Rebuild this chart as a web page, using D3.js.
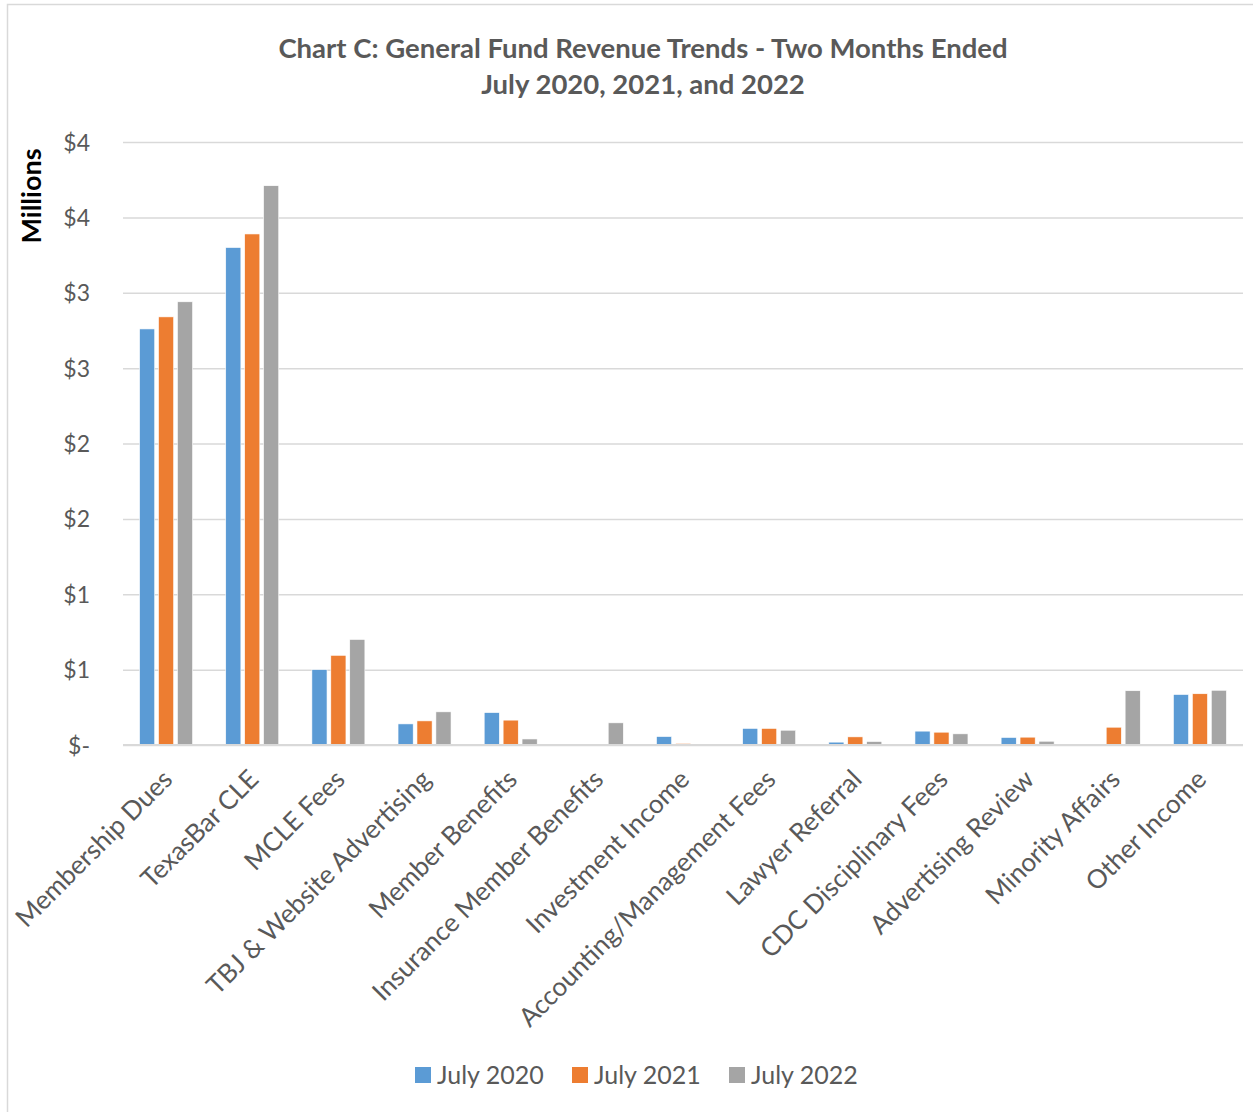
<!DOCTYPE html>
<html>
<head>
<meta charset="utf-8">
<script src="https://cdn.jsdelivr.net/npm/d3@7"></script>
<style>
  body { margin: 0; background: #fff; }
  text { font-family: Lato, "Liberation Sans", sans-serif; }
</style>
</head>
<body>
<div id="chart"></div>
<script>
var categories = ["Membership Dues", "TexasBar CLE", "MCLE Fees", "TBJ & Website Advertising",
  "Member Benefits", "Insurance Member Benefits", "Investment Income", "Accounting/Management Fees",
  "Lawyer Referral", "CDC Disciplinary Fees", "Advertising Review", "Minority Affairs", "Other Income"];
var seriesNames = ["July 2020", "July 2021", "July 2022"];
// values in millions
var july2020 = [2.76, 3.30, 0.50, 0.14, 0.215, 0, 0.056, 0.11, 0.019, 0.092, 0.05, 0, 0.335];
var july2021 = [2.84, 3.39, 0.595, 0.16, 0.165, 0, 0.01, 0.11, 0.054, 0.085, 0.052, 0.118, 0.34];
var july2022 = [2.94, 3.71, 0.70, 0.22, 0.04, 0.147, 0, 0.098, 0.023, 0.074, 0.025, 0.36, 0.363];
var tickValues = [0, 0.5, 1, 1.5, 2, 2.5, 3, 3.5, 4];
var tickLabels = ["$-", "$1", "$1", "$2", "$2", "$3", "$3", "$4", "$4"];
var colors = ["#5B9BD5", "#ED7D31", "#A5A5A5"];

var width = 1253, height = 1112;
var plotLeft = 123, plotRight = 1243, plotTop = 142, plotBottom = 745;

var svg = d3.select("#chart").append("svg").attr("width", width).attr("height", height);

// outer chart border
svg.append("rect").attr("x", 7.5).attr("y", 4.5).attr("width", width + 10).attr("height", height + 10)
  .attr("fill", "none").attr("stroke", "#d9d9d9").attr("stroke-width", 1.5);

var allSeries = [july2020, july2021, july2022];
var data = categories.map(function (c, i) {
  return { cat: c, vals: allSeries.map(function (s, j) { return { name: seriesNames[j], v: s[i], k: j }; }) };
});

var x0 = d3.scaleBand().domain(categories).range([plotLeft, plotRight]);
var bw = x0.bandwidth();
var x1 = d3.scaleBand().domain(seriesNames).range([(bw - 53) / 2, (bw + 53) / 2]).paddingInner(0.2);
var y = d3.scaleLinear().domain([0, 4]).range([plotBottom, plotTop]);

// gridlines
var yAxis = d3.axisLeft(y).tickValues(tickValues).tickSize(-(plotRight - plotLeft))
  .tickFormat(function (d, i) { return tickLabels[i]; });
var gy = svg.append("g").attr("transform", "translate(" + plotLeft + ",0)").call(yAxis);
gy.select(".domain").remove();
gy.selectAll("line").attr("stroke", "#d9d9d9").attr("stroke-width", 1.5);
gy.selectAll("text").attr("x", -33).attr("fill", "#595959").style("font-size", "23px")
  .attr("dy", "0.35em");

// bars
var groups = svg.selectAll("g.cat").data(data).enter().append("g")
  .attr("class", "cat")
  .attr("transform", function (d) { return "translate(" + x0(d.cat) + ",0)"; });
groups.selectAll("rect").data(function (d) { return d.vals.filter(function (v) { return v.v > 0; }); })
  .enter().append("rect")
  .attr("x", function (d) { return x1(d.name); })
  .attr("y", function (d) { return y(d.v); })
  .attr("width", x1.bandwidth())
  .attr("height", function (d) { return plotBottom - y(d.v); })
  .attr("fill", function (d) { return colors[d.k]; })
  .attr("stroke", "#fff").attr("stroke-width", 0.6);

// x axis line over bars
svg.append("line").attr("x1", plotLeft).attr("x2", plotRight).attr("y1", plotBottom).attr("y2", plotBottom)
  .attr("stroke", "#d9d9d9").attr("stroke-width", 2);

// category labels
var xAxis = d3.axisBottom(x0).tickSize(0).tickPadding(0);
var gx = svg.append("g").attr("transform", "translate(0," + plotBottom + ")").call(xAxis);
gx.select(".domain").remove();
gx.selectAll("text")
  .attr("fill", "#595959").style("font-size", "26px")
  .attr("text-anchor", "end")
  .attr("y", 0).attr("dy", 0)
  .attr("transform", "translate(8,36) rotate(-45)");

// title
var title = svg.append("text").attr("x", 643).attr("y", 58).attr("text-anchor", "middle")
  .attr("fill", "#595959").style("font-size", "27.5px").style("font-weight", "bold");
title.append("tspan").attr("x", 643).text("Chart C: General Fund Revenue Trends - Two Months Ended");
title.append("tspan").attr("x", 643).attr("dy", 36).text("July 2020, 2021, and 2022");

// y axis title
svg.append("text").attr("transform", "translate(41,196) rotate(-90)").attr("text-anchor", "middle")
  .attr("fill", "#000").style("font-size", "27px").style("font-weight", "bold").text("Millions");

// legend
var legendX = [415, 572, 729];
var legend = svg.selectAll("g.legend").data(seriesNames).enter().append("g")
  .attr("transform", function (d, i) { return "translate(" + legendX[i] + ",1067)"; });
legend.append("rect").attr("width", 16).attr("height", 16).attr("fill", function (d, i) { return colors[i]; });
legend.append("text").attr("x", 22).attr("y", 17).attr("fill", "#595959").style("font-size", "25px")
  .text(function (d) { return d; });
</script>
</body>
</html>
